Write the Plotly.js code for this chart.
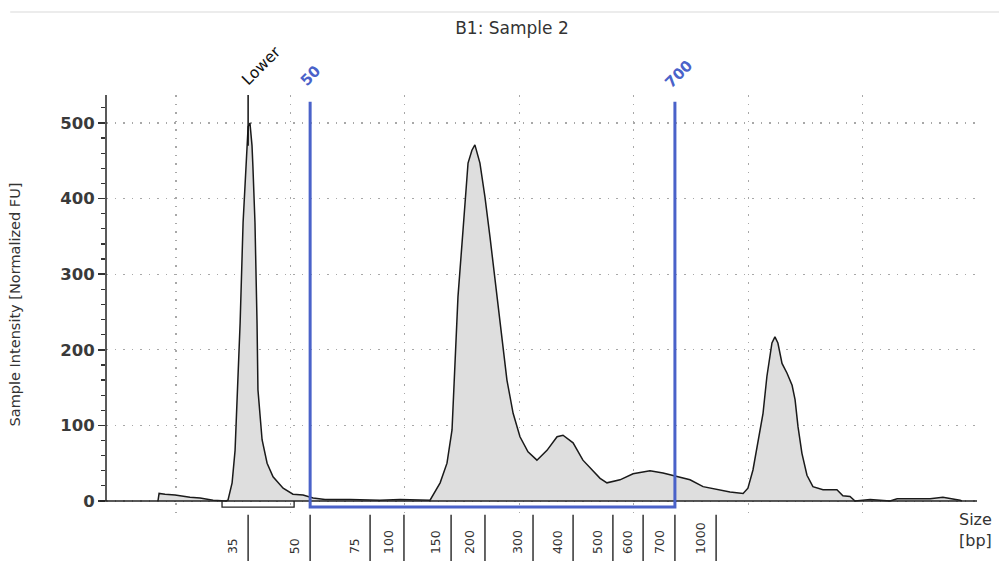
<!DOCTYPE html>
<html><head><meta charset="utf-8">
<script src="https://cdn.plot.ly/plotly-3.0.1.min.js"></script>
<style>html,body{margin:0;padding:0;background:#fff}#chart{width:999px;height:561px}</style>
</head><body><div id="chart"></div>
<script>
// Electropherogram trace: migration time (s) vs normalized fluorescence
const migrationTime = [19.21,19.26,19.52,19.96,20.61,21.05,21.62,22.18,22.27,22.45,22.58,22.71,22.80,22.93,23.06,23.15,23.23,23.32,23.36,23.45,23.54,23.58,23.76,23.98,24.24,24.68,25.11,25.55,25.99,26.51,27.60,28.91,29.79,30.66,31.10,31.54,31.84,32.06,32.19,32.32,32.54,32.76,32.93,33.06,33.28,33.50,33.72,33.94,34.16,34.46,34.73,35.03,35.38,35.77,36.21,36.65,36.91,37.35,37.78,38.09,38.53,38.83,39.40,39.97,40.71,41.28,41.89,42.46,43.03,43.64,44.21,44.78,44.99,45.21,45.43,45.65,45.82,46.04,46.17,46.30,46.48,46.70,46.92,47.05,47.18,47.35,47.57,47.83,48.27,48.88,49.14,49.45,49.67,50.33,51.20,51.51,52.95,53.51,54.26,54.34];
const intensityFU = [0,10,9,8,5,4,1,0,1,24,67,169,235,368,455,495,500,470,442,368,235,147,81,50,32,17,9,8,4,2,2,1,2,1,1,24,50,94,182,270,358,447,464,471,447,402,349,292,235,160,116,85,65,54,67,85,87,77,54,44,30,24,28,36,40,37,32,28,19,15,12,10,17,41,77,116,165,209,217,209,182,169,153,134,98,63,34,19,15,15,7,6,0,2,0,3,3,5,1,0];

// Ladder (size standard) positions
const ladderBp = [35,50,75,100,150,200,300,400,500,600,700,1000];
const ladderTime = [23.15,25.86,28.48,29.96,32.02,33.50,35.60,37.35,39.09,40.41,41.80,43.60];

// Region of interest and lower marker
const regionBp = [50, 700];
const lowerMarkerLabel = 'Lower';
const lowerMarkerBp = 35;
const lowerMarkerWindow = [22.01, 25.16];

const yTickVals = [0,100,200,300,400,500];
const xRange = [16.94, 55];
const yRange = [-17.2, 537];

const BLUE = '#4a62c9';
const FONT = 'DejaVu Sans';
const GRID = '#a8a8a8';
const GRIDDASH = '1.5px,7px';
const tOf = bp => ladderTime[ladderBp.indexOf(bp)];
const tLower = tOf(lowerMarkerBp);
const tR0 = tOf(regionBp[0]);
const tR1 = tOf(regionBp[1]);
const regionTop = 528;
const bracketY = -8;

const trace = {
  x: migrationTime, y: intensityFU, type: 'scatter', mode: 'lines',
  line: {color: '#1a1a1a', width: 1.5}, fill: 'tozeroy', fillcolor: '#dedede',
  hoverinfo: 'x+y', showlegend: false
};

const ladderLabels = ladderBp.map((bp, i) => ({
  x: ladderTime[i], xref: 'x', y: (514 - 556) / 419, yref: 'paper',
  text: String(bp), showarrow: false, textangle: -90,
  xanchor: 'center', yanchor: 'bottom', xshift: -16,
  font: {family: FONT, size: 12.5, color: '#333'}
}));

const ladderTicks = ladderTime.map(t => ({
  type: 'line', xref: 'x', x0: t, x1: t, yref: 'paper', y0: -0.002, y1: -0.12,
  line: {color: '#333', width: 1.5}
}));

const layout = {
  width: 999, height: 561,
  margin: {l: 106, r: 22, t: 95, b: 47},
  paper_bgcolor: '#fff', plot_bgcolor: '#fff',
  title: {text: 'B1: Sample 2', font: {family: FONT, size: 17, color: '#333'},
    x: 512/999, xref: 'container', xanchor: 'center', y: 1 - 28/561, yref: 'container', yanchor: 'middle'},
  xaxis: {range: xRange, tickmode: 'linear', tick0: 0, dtick: 5, showticklabels: false, ticks: '',
    showgrid: true, gridcolor: GRID, griddash: GRIDDASH, gridwidth: 1.2,
    zeroline: false, showline: false, fixedrange: true},
  yaxis: {range: yRange, tickmode: 'array', tickvals: yTickVals,
    ticks: 'outside', ticklen: 7, tickwidth: 1.5, tickcolor: '#333',
    tickfont: {family: FONT, size: 16.5, color: '#3a3a3a', weight: 'bold'},
    showgrid: true, gridcolor: GRID, griddash: GRIDDASH, gridwidth: 1.2,
    minor: {tickmode: 'linear', tick0: 0, dtick: 20, ticks: 'outside', ticklen: 4, tickwidth: 1.2, tickcolor: '#333', showgrid: false},
    zeroline: false, showline: false, fixedrange: true,
    title: {text: 'Sample Intensity [Normalized FU]', font: {family: FONT, size: 14.5, color: '#333'}, standoff: 36}},
  shapes: [
    {type: 'rect', xref: 'paper', x0: 0, x1: 1, yref: 'y', y0: yRange[0], y1: 0,
      fillcolor: '#fff', line: {width: 0}, layer: 'between'},
    {type: 'line', xref: 'paper', x0: -0.007, x1: 1, yref: 'y', y0: 0, y1: 0,
      line: {color: '#222', width: 1.5}, layer: 'above'},
    {type: 'line', xref: 'paper', x0: 0, x1: 0, yref: 'y', y0: 0, y1: yRange[1],
      line: {color: '#222', width: 1.5}, layer: 'above'},
    {type: 'line', xref: 'paper', x0: -0.11, x1: 1.03, yref: 'paper', y0: 1.198, y1: 1.198,
      line: {color: '#e6e6e6', width: 1.5}},
    {type: 'line', xref: 'x', x0: tLower, x1: tLower, yref: 'y', y0: 470, y1: yRange[1],
      line: {color: '#111', width: 1.5}},
    {type: 'path', xref: 'x', yref: 'y',
      path: `M ${lowerMarkerWindow[0]},0 L ${lowerMarkerWindow[0]},${bracketY} L ${lowerMarkerWindow[1]},${bracketY} L ${lowerMarkerWindow[1]},0`,
      line: {color: '#222', width: 1.3}},
    {type: 'path', xref: 'x', yref: 'y',
      path: `M ${tR0},${regionTop} L ${tR0},${bracketY} L ${tR1},${bracketY} L ${tR1},${regionTop}`,
      line: {color: BLUE, width: 3}, layer: 'above'},
    ...ladderTicks
  ],
  annotations: [
    {x: tLower, xref: 'x', y: yRange[1], yref: 'y', text: lowerMarkerLabel, showarrow: false,
      textangle: -45, xanchor: 'center', yanchor: 'middle', xshift: 13, yshift: 29,
      font: {family: FONT, size: 15.5, color: '#111'}},
    {x: tR0, xref: 'x', y: regionTop, yref: 'y', text: String(regionBp[0]), showarrow: false,
      textangle: -45, xanchor: 'center', yanchor: 'middle', xshift: 0, yshift: 26,
      font: {family: FONT, size: 15, color: BLUE, weight: 'bold'}},
    {x: tR1, xref: 'x', y: regionTop, yref: 'y', text: String(regionBp[1]), showarrow: false,
      textangle: -45, xanchor: 'center', yanchor: 'middle', xshift: 4, yshift: 28,
      font: {family: FONT, size: 15, color: BLUE, weight: 'bold'}},
    {x: (975 - 106) / 871, xref: 'paper', y: (514 - 530) / 419, yref: 'paper',
      text: 'Size<br>[bp]', showarrow: false, xanchor: 'center', yanchor: 'middle', align: 'center',
      font: {family: FONT, size: 16, color: '#333'}},
    ...ladderLabels
  ]
};

Plotly.newPlot('chart', [trace], layout, {displayModeBar: false, staticPlot: true});
</script>
</body></html>
